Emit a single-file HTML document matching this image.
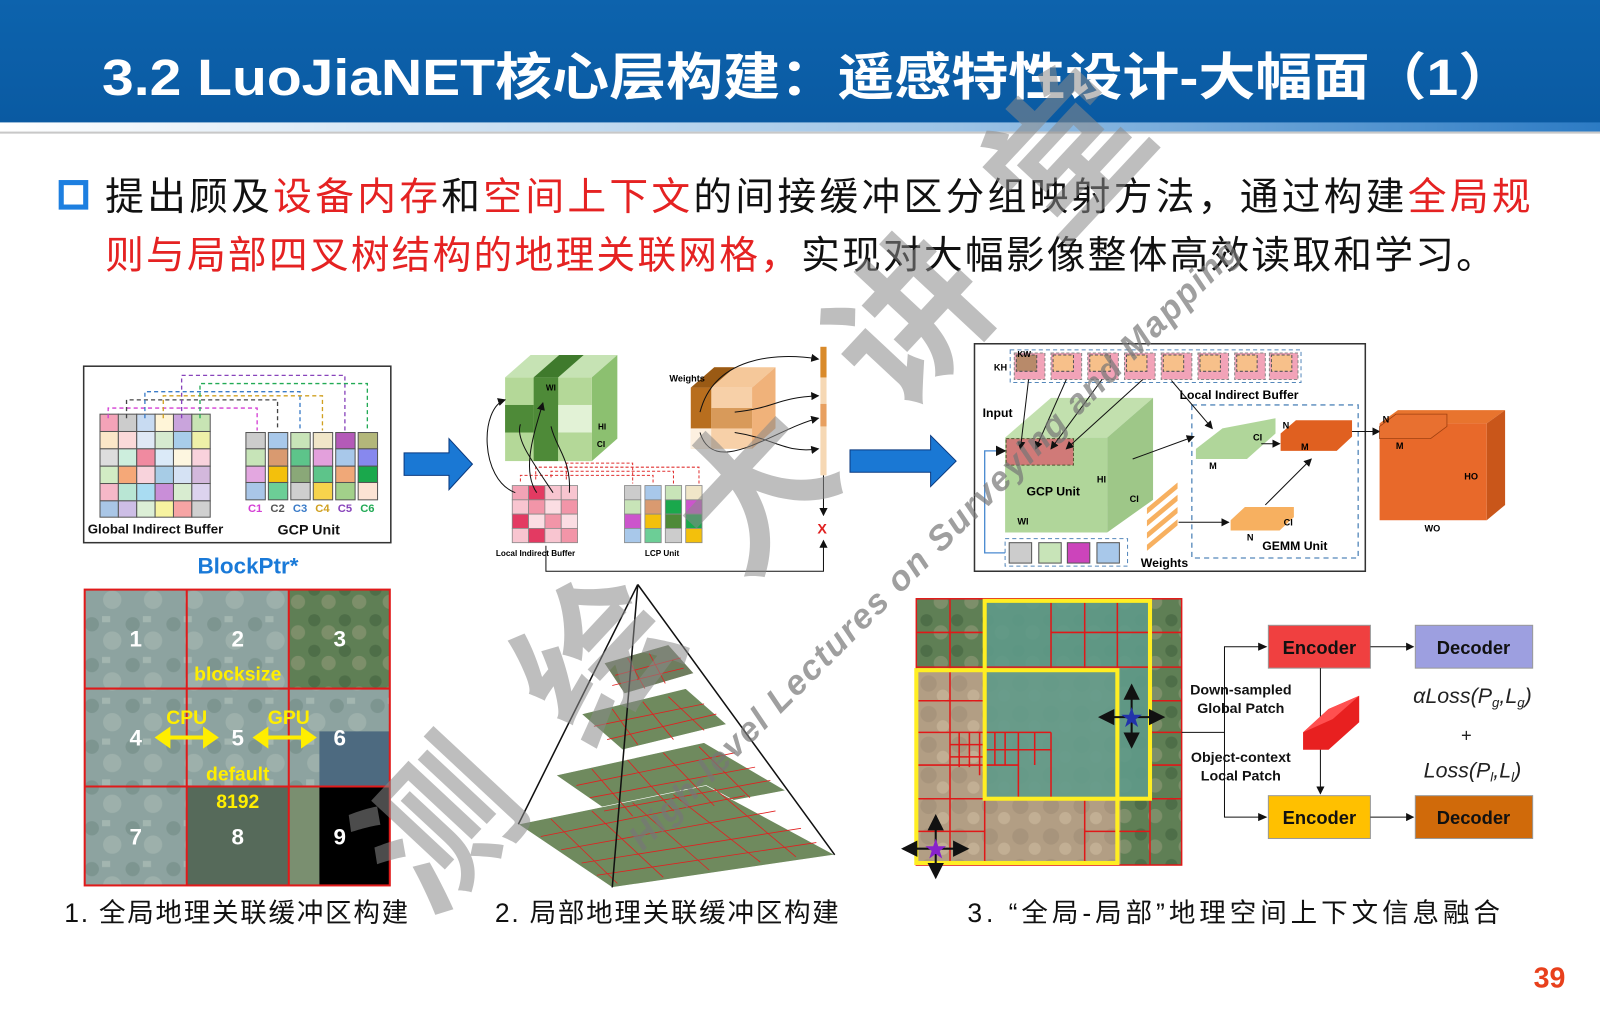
<!DOCTYPE html>
<html><head><meta charset="utf-8"><style>
html,body{margin:0;padding:0;background:#fff;}
svg{display:block}
text{font-family:"Liberation Sans","Noto Sans CJK SC",sans-serif}
</style></head><body>
<svg width="1600" height="1016" viewBox="0 0 1568 996" preserveAspectRatio="none" xmlns="http://www.w3.org/2000/svg">
<defs>
<linearGradient id="tb" x1="0" y1="0" x2="0" y2="1"><stop offset="0" stop-color="#0d63ad"/><stop offset="1" stop-color="#0a5aa2"/></linearGradient>
<linearGradient id="tb2" x1="0" y1="0" x2="1" y2="0"><stop offset="0" stop-color="#ffffff"/><stop offset="0.6" stop-color="#9cc3e6"/><stop offset="1" stop-color="#2c7bc4"/></linearGradient>
<marker id="ah" markerWidth="8" markerHeight="8" refX="7" refY="4" orient="auto"><path d="M0,0 L8,4 L0,8 z" fill="#111"/></marker>
<pattern id="sat" width="40" height="40" patternUnits="userSpaceOnUse"><rect width="40" height="40" fill="#8da3a0"/><circle cx="10" cy="12" r="7" fill="#7d9590"/><circle cx="30" cy="28" r="9" fill="#9db0ab"/><rect x="20" y="4" width="8" height="6" fill="#a3b6b0"/></pattern>
<pattern id="sat2" width="30" height="30" patternUnits="userSpaceOnUse"><rect width="30" height="30" fill="#5f7f55"/><circle cx="8" cy="8" r="6" fill="#4e6e48"/><circle cx="22" cy="20" r="7" fill="#7d8f6a"/></pattern>
<pattern id="sat3" width="30" height="30" patternUnits="userSpaceOnUse"><rect width="30" height="30" fill="#b29e84"/><circle cx="10" cy="10" r="8" fill="#a7947c"/><circle cx="24" cy="22" r="6" fill="#c2af94"/></pattern>
</defs>

<rect x="0" y="0" width="1568" height="122" fill="url(#tb)"/>
<rect x="0" y="120" width="1568" height="9" fill="url(#tb2)"/>
<rect x="0" y="129" width="1568" height="2" fill="#c8c8c8"/>
<text x="100" y="93" textLength="1385" lengthAdjust="spacingAndGlyphs" font-size="50" font-weight="bold" fill="#fff">3.2 LuoJiaNET核心层构建：遥感特性设计-大幅面（1）</text>

<rect x="60" y="179" width="24" height="24" fill="none" stroke="#1d7fe0" stroke-width="5"/>
<text x="103" y="206" font-size="38" fill="#111" textLength="1397" lengthAdjust="spacing">提出顾及<tspan fill="#e52222">设备内存</tspan>和<tspan fill="#e52222">空间上下文</tspan>的间接缓冲区分组映射方法，通过构建<tspan fill="#e52222">全局规</tspan></text>
<text x="103" y="263" font-size="38" fill="#e52222" textLength="1362" lengthAdjust="spacing">则与局部四叉树结构的地理关联网格，<tspan fill="#111">实现对大幅影像整体高效读取和学习。</tspan></text>

<!-- panel 1 -->
<rect x="82" y="359" width="301" height="173" fill="#fff" stroke="#333" stroke-width="1.5"/>
<g stroke="#555" stroke-width="1">
<rect x="98" y="406" width="18" height="17" fill="#f4a3b8"/><rect x="116" y="406" width="18" height="17" fill="#ccc"/><rect x="134" y="406" width="18" height="17" fill="#c8dbf2"/><rect x="152" y="406" width="18" height="17" fill="#fff5d8"/><rect x="170" y="406" width="18" height="17" fill="#c9a4dc"/><rect x="188" y="406" width="18" height="17" fill="#c8e4b4"/>
<rect x="98" y="423" width="18" height="17" fill="#fbe7c8"/><rect x="116" y="423" width="18" height="17" fill="#fbd9d9"/><rect x="134" y="423" width="18" height="17" fill="#dfe8f5"/><rect x="152" y="423" width="18" height="17" fill="#d6ead0"/><rect x="170" y="423" width="18" height="17" fill="#a8cdea"/><rect x="188" y="423" width="18" height="17" fill="#eef0a8"/>
<rect x="98" y="440" width="18" height="17" fill="#ddd"/><rect x="116" y="440" width="18" height="17" fill="#cdeedd"/><rect x="134" y="440" width="18" height="17" fill="#f08aa0"/><rect x="152" y="440" width="18" height="17" fill="#dbeaf8"/><rect x="170" y="440" width="18" height="17" fill="#fdf6e0"/><rect x="188" y="440" width="18" height="17" fill="#f9d2dc"/>
<rect x="98" y="457" width="18" height="17" fill="#d2ecc4"/><rect x="116" y="457" width="18" height="17" fill="#f5a878"/><rect x="134" y="457" width="18" height="17" fill="#f8d3dc"/><rect x="152" y="457" width="18" height="17" fill="#a7cce6"/><rect x="170" y="457" width="18" height="17" fill="#d5e2f4"/><rect x="188" y="457" width="18" height="17" fill="#d3b8dc"/>
<rect x="98" y="474" width="18" height="17" fill="#f6b8c8"/><rect x="116" y="474" width="18" height="17" fill="#b9e6d4"/><rect x="134" y="474" width="18" height="17" fill="#a9dcf2"/><rect x="152" y="474" width="18" height="17" fill="#c98ed8"/><rect x="170" y="474" width="18" height="17" fill="#d8ecd0"/><rect x="188" y="474" width="18" height="17" fill="#dcd3ee"/>
<rect x="98" y="491" width="18" height="16" fill="#a9c6e6"/><rect x="116" y="491" width="18" height="16" fill="#cdbee6"/><rect x="134" y="491" width="18" height="16" fill="#dcefd6"/><rect x="152" y="491" width="18" height="16" fill="#f7f3a0"/><rect x="170" y="491" width="18" height="16" fill="#f6a4a4"/><rect x="188" y="491" width="18" height="16" fill="#d0d0d0"/>
</g>
<g stroke="#555" stroke-width="1">
<rect x="241" y="424" width="19" height="16" fill="#ccc"/><rect x="241" y="440" width="19" height="17" fill="#c7e4b8"/><rect x="241" y="457" width="19" height="16" fill="#e3a7e0"/><rect x="241" y="473" width="19" height="17" fill="#a9c6e8"/>
<rect x="263" y="424" width="19" height="16" fill="#a8c8ea"/><rect x="263" y="440" width="19" height="17" fill="#d99a70"/><rect x="263" y="457" width="19" height="16" fill="#f3c00c"/><rect x="263" y="473" width="19" height="17" fill="#6cce96"/>
<rect x="285" y="424" width="19" height="16" fill="#c8e4b8"/><rect x="285" y="440" width="19" height="17" fill="#5dc48a"/><rect x="285" y="457" width="19" height="16" fill="#8aa878"/><rect x="285" y="473" width="19" height="17" fill="#cfcfcf"/>
<rect x="307" y="424" width="19" height="16" fill="#f0e6c8"/><rect x="307" y="440" width="19" height="17" fill="#e3a0dc"/><rect x="307" y="457" width="19" height="16" fill="#5dc48a"/><rect x="307" y="473" width="19" height="17" fill="#f7d34c"/>
<rect x="329" y="424" width="19" height="16" fill="#b45ab8"/><rect x="329" y="440" width="19" height="17" fill="#a8c8ea"/><rect x="329" y="457" width="19" height="16" fill="#f0a878"/><rect x="329" y="473" width="19" height="17" fill="#a2d08a"/>
<rect x="351" y="424" width="19" height="16" fill="#b3b77a"/><rect x="351" y="440" width="19" height="17" fill="#8788ee"/><rect x="351" y="457" width="19" height="16" fill="#1aa84c"/><rect x="351" y="473" width="19" height="17" fill="#fbe3d4"/>
</g>
<g fill="none" stroke-width="1.3" stroke-dasharray="4,3">
<path d="M106,410 V400 H252 V422" stroke="#d43fd4"/>
<path d="M124,410 V392 H272 V422" stroke="#444"/>
<path d="M142,410 V384 H294 V422" stroke="#3a7bc8"/>
<path d="M160,410 V388 H316 V422" stroke="#d0a020"/>
<path d="M178,410 V368 H338 V422" stroke="#8844bb"/>
<path d="M196,410 V376 H360 V422" stroke="#22aa55"/>
</g>
<g font-size="11" font-weight="bold"><text x="243" y="502" fill="#d43fd4">C1</text><text x="265" y="502" fill="#555">C2</text><text x="287" y="502" fill="#3a7bc8">C3</text><text x="309" y="502" fill="#d0a020">C4</text><text x="331" y="502" fill="#8844bb">C5</text><text x="353" y="502" fill="#22aa55">C6</text></g>
<text x="86" y="523" font-size="13" font-weight="bold" fill="#111">Global Indirect Buffer</text>
<text x="272" y="524" font-size="14" font-weight="bold" fill="#111">GCP Unit</text>
<text x="243" y="562" text-anchor="middle" font-size="22" font-weight="bold" fill="#1a7ad8">BlockPtr*</text>

<rect x="83" y="578" width="299" height="290" fill="url(#sat)"/>
<rect x="283" y="578" width="99" height="96" fill="url(#sat2)"/>
<rect x="183" y="771" width="100" height="97" fill="#566a5a"/>
<rect x="283" y="771" width="30" height="97" fill="#7a8f70"/>
<rect x="313" y="717" width="69" height="54" fill="#4d6a80"/>
<rect x="313" y="771" width="69" height="97" fill="#000"/>
<g stroke="#e01a1a" stroke-width="2" fill="none"><rect x="83" y="578" width="299" height="290"/><path d="M183,578V868M283,578V868M83,675H382M83,771H382"/></g>
<g font-size="22" font-weight="bold" fill="#fff" text-anchor="middle"><text x="133" y="634">1</text><text x="233" y="634">2</text><text x="333" y="634">3</text><text x="133" y="731">4</text><text x="233" y="731">5</text><text x="333" y="731">6</text><text x="133" y="828">7</text><text x="233" y="828">8</text><text x="333" y="828">9</text></g>
<g font-size="19" font-weight="bold" fill="#ffee00" text-anchor="middle"><text x="233" y="667">blocksize</text><text x="183" y="710">CPU</text><text x="283" y="710">GPU</text><text x="233" y="765">default</text><text x="233" y="792">8192</text></g>
<g stroke="#ffee00" stroke-width="4" fill="#ffee00"><path d="M162,723H204"/><path d="M258,723H300"/><path d="M155,723l10,-7v14z M211,723l-10,-7v14z M251,723l10,-7v14z M307,723l-10,-7v14z"/></g>

<path d="M396,444H440V430L463,455L440,480V466H396z" fill="#1a78d4" stroke="#0a3a80" stroke-width="1"/>
<path d="M833,441H912V427L937,452L912,477V463H833z" fill="#1a78d4" stroke="#0a3a80" stroke-width="1"/>

<!-- panel 2 -->
<path d="M495,370 L520,348 L605,348 L580,370z" fill="#c6e3b4"/>
<path d="M580,370 L605,348 L605,430 L580,452z" fill="#8cc070"/>
<rect x="495" y="370" width="85" height="82" fill="#b4d898"/>
<rect x="523" y="370" width="24" height="82" fill="#4e8a38"/>
<rect x="495" y="397" width="28" height="27" fill="#4e8a38"/>
<rect x="547" y="397" width="33" height="27" fill="#e2f2d6"/>
<rect x="547" y="424" width="33" height="28" fill="#b4d898"/>
<path d="M523,370 L548,348 L572,348 L547,370z" fill="#3f7a2c"/>
<text x="535" y="383" font-size="8" font-weight="bold">WI</text><text x="586" y="421" font-size="8" font-weight="bold">HI</text><text x="585" y="438" font-size="8" font-weight="bold">CI</text>
<g stroke="#888" stroke-width="0.8">
<rect x="502" y="476" width="16" height="14" fill="#f2a3b5"/><rect x="518" y="476" width="16" height="14" fill="#e33a62"/><rect x="534" y="476" width="16" height="14" fill="#f8c5d0"/><rect x="550" y="476" width="16" height="14" fill="#f8c5d0"/>
<rect x="502" y="490" width="16" height="14" fill="#f8c5d0"/><rect x="518" y="490" width="16" height="14" fill="#f295a8"/><rect x="534" y="490" width="16" height="14" fill="#fbdde3"/><rect x="550" y="490" width="16" height="14" fill="#f295a8"/>
<rect x="502" y="504" width="16" height="14" fill="#e33a62"/><rect x="518" y="504" width="16" height="14" fill="#fbdde3"/><rect x="534" y="504" width="16" height="14" fill="#f295a8"/><rect x="550" y="504" width="16" height="14" fill="#fbdde3"/>
<rect x="502" y="518" width="16" height="14" fill="#f8c5d0"/><rect x="518" y="518" width="16" height="14" fill="#e33a62"/><rect x="534" y="518" width="16" height="14" fill="#f8c5d0"/><rect x="550" y="518" width="16" height="14" fill="#f295a8"/>
<rect x="612" y="476" width="16" height="14" fill="#ccc"/><rect x="612" y="490" width="16" height="14" fill="#c8e4b8"/><rect x="612" y="504" width="16" height="14" fill="#cc55cc"/><rect x="612" y="518" width="16" height="14" fill="#a8c8ea"/>
<rect x="632" y="476" width="16" height="14" fill="#a8c8ea"/><rect x="632" y="490" width="16" height="14" fill="#d99a70"/><rect x="632" y="504" width="16" height="14" fill="#f3c00c"/><rect x="632" y="518" width="16" height="14" fill="#6cce96"/>
<rect x="652" y="476" width="16" height="14" fill="#c8e4b8"/><rect x="652" y="490" width="16" height="14" fill="#1aa84c"/><rect x="652" y="504" width="16" height="14" fill="#4e8a38"/><rect x="652" y="518" width="16" height="14" fill="#ccc"/>
<rect x="672" y="476" width="16" height="14" fill="#f0e6c8"/><rect x="672" y="490" width="16" height="14" fill="#cc55cc"/><rect x="672" y="504" width="16" height="14" fill="#1aa84c"/><rect x="672" y="518" width="16" height="14" fill="#f3c00c"/>
</g>
<g fill="none" stroke="#e03030" stroke-width="1" stroke-dasharray="3,2"><path d="M525,470V458H685V474"/><path d="M540,468V462H660V474"/><path d="M510,472V466H640V474"/><path d="M555,470V454H620V474"/></g>
<g fill="none" stroke="#111" stroke-width="1"><path d="M505,483 C470,470 470,400 495,392" marker-end="url(#ah)"/><path d="M526,483 C510,460 525,420 532,395" marker-end="url(#ah)"/><path d="M542,483 C520,450 505,430 510,416"/><path d="M558,483 C560,450 545,440 540,418"/></g>
<text x="486" y="545" font-size="8" font-weight="bold">Local Indirect Buffer</text><text x="632" y="545" font-size="8" font-weight="bold">LCP Unit</text>
<path d="M677,380 L700,360 L760,360 L737,380z" fill="#f5c89a"/>
<path d="M737,380 L760,360 L760,420 L737,440z" fill="#f0b27a"/>
<rect x="677" y="380" width="60" height="60" fill="#f7d0a8"/>
<rect x="677" y="380" width="20" height="40" fill="#b86e1e"/>
<rect x="697" y="400" width="40" height="20" fill="#d89a5a"/>
<rect x="677" y="420" width="20" height="20" fill="#fdf0e0"/>
<path d="M677,380 L700,360 L720,360 L697,380z" fill="#9a5a14"/>
<text x="656" y="374" font-size="9" font-weight="bold">Weights</text>
<rect x="804" y="340" width="6" height="126" fill="#f6d8b4"/><rect x="804" y="340" width="6" height="30" fill="#d98a2a"/><rect x="804" y="396" width="6" height="22" fill="#e8a060"/>
<g fill="none" stroke="#111" stroke-width="1"><path d="M686,404 C700,350 760,345 802,352" marker-end="url(#ah)"/><path d="M720,404 C760,400 760,390 802,388" marker-end="url(#ah)"/><path d="M686,424 C700,470 760,420 802,410" marker-end="url(#ah)"/><path d="M720,424 C760,430 770,445 802,440" marker-end="url(#ah)"/><path d="M807,466 V505" marker-end="url(#ah)"/><path d="M535,535 V560 H807 V530" marker-end="url(#ah)"/></g>
<text x="801" y="523" font-size="14" font-weight="bold" fill="#e02020">X</text>

<!-- panel 3 -->
<rect x="955" y="337" width="383" height="223" fill="#fff" stroke="#333" stroke-width="1.5"/>
<rect x="990" y="343" width="285" height="32" fill="none" stroke="#5588bb" stroke-dasharray="4,3"/>
<g fill="#f2a3b8" stroke="#888" stroke-dasharray="3,2"><rect x="994" y="346" width="30" height="26"/><rect x="1030" y="346" width="30" height="26"/><rect x="1066" y="346" width="30" height="26"/><rect x="1102" y="346" width="30" height="26"/><rect x="1138" y="346" width="30" height="26"/><rect x="1174" y="346" width="30" height="26"/><rect x="1210" y="346" width="30" height="26"/><rect x="1244" y="346" width="28" height="26"/></g>
<g fill="#f7c08a" stroke="#555" stroke-dasharray="3,2"><rect x="996" y="348" width="20" height="16" fill="#b88a6a"/><rect x="1032" y="348" width="20" height="16"/><rect x="1068" y="348" width="20" height="16"/><rect x="1104" y="348" width="20" height="16"/><rect x="1140" y="348" width="20" height="16"/><rect x="1176" y="348" width="20" height="16"/><rect x="1212" y="348" width="20" height="16"/><rect x="1246" y="348" width="20" height="16"/></g>
<text x="974" y="363" font-size="9" font-weight="bold">KH</text><text x="997" y="350" font-size="8" font-weight="bold">KW</text>
<text x="1156" y="391" font-size="12" font-weight="bold">Local Indirect Buffer</text>
<text x="963" y="409" font-size="12" font-weight="bold">Input</text>
<path d="M985,429 L1030,390 L1130,390 L1085,429z" fill="#c2e0ae"/>
<path d="M1085,429 L1130,390 L1130,490 L1085,522z" fill="#9ec788"/>
<rect x="985" y="429" width="100" height="93" fill="#b0d69a"/>
<rect x="986" y="430" width="66" height="26" fill="#d07a78" stroke="#553" stroke-dasharray="3,2"/>
<text x="1006" y="486" font-size="12" font-weight="bold">GCP Unit</text><text x="1075" y="473" font-size="9" font-weight="bold">HI</text><text x="1107" y="492" font-size="9" font-weight="bold">CI</text><text x="997" y="514" font-size="9" font-weight="bold">WI</text>
<rect x="985" y="528" width="120" height="27" fill="none" stroke="#5588bb" stroke-dasharray="4,3"/>
<g stroke="#555"><rect x="989" y="532" width="22" height="20" fill="#ccc"/><rect x="1018" y="532" width="22" height="20" fill="#c8e4b8"/><rect x="1046" y="532" width="22" height="20" fill="#cc44bb"/><rect x="1075" y="532" width="22" height="20" fill="#a8c8ea"/></g>
<path d="M985,542 H965 V442 H985" fill="none" stroke="#4a8ad0" stroke-width="1.3" marker-end="url(#ah)"/>
<g fill="#f7b060"><path d="M1124,498l30,-25v6l-30,25z"/><path d="M1124,510l30,-25v6l-30,25z"/><path d="M1124,522l30,-25v6l-30,25z"/><path d="M1124,534l30,-25v6l-30,25z"/></g>
<text x="1118" y="556" font-size="12" font-weight="bold">Weights</text>
<rect x="1168" y="397" width="163" height="150" fill="none" stroke="#5588bb" stroke-dasharray="5,4" stroke-width="1.3"/>
<path d="M1172,440 L1198,420 L1250,410 L1250,425 L1222,450 L1172,450z" fill="#b0d69a"/>
<text x="1185" y="460" font-size="9" font-weight="bold">M</text><text x="1228" y="432" font-size="9" font-weight="bold">CI</text>
<path d="M1255,425 L1270,412 L1325,412 L1325,428 L1310,442 L1255,442z" fill="#e06020"/>
<text x="1275" y="441" font-size="9" font-weight="bold">M</text><text x="1257" y="420" font-size="9" font-weight="bold">N</text>
<path d="M1206,510 L1220,497 L1268,497 L1268,507 L1254,520 L1206,520z" fill="#f7b060"/>
<text x="1222" y="530" font-size="9" font-weight="bold">N</text><text x="1258" y="515" font-size="9" font-weight="bold">CI</text>
<text x="1237" y="539" font-size="12" font-weight="bold">GEMM Unit</text>
<g fill="none" stroke="#111" stroke-width="1" marker-end="url(#ah)"><path d="M1008,372 L1000,440"/><path d="M1045,372 L1015,440"/><path d="M1080,372 L1030,440"/><path d="M1120,372 L1045,440"/><path d="M1148,373 L1188,420"/><path d="M1110,450 L1170,428"/><path d="M1236,435 L1254,435"/><path d="M1155,512 L1204,512"/><path d="M1240,495 L1285,450"/><path d="M1325,423 L1352,423"/></g>
<path d="M1352,415 L1370,402 L1475,402 L1457,415z" fill="#e8742e"/>
<path d="M1457,415 L1475,402 L1475,495 L1457,510z" fill="#c9561a"/>
<rect x="1352" y="415" width="105" height="95" fill="#e8692a"/>
<path d="M1352,418 L1368,406 L1418,406 L1418,418 L1402,430 L1352,430z" fill="#e87030" stroke="#a04010" stroke-width="0.8"/>
<text x="1355" y="414" font-size="9" font-weight="bold">N</text><text x="1368" y="440" font-size="9" font-weight="bold">M</text><text x="1435" y="470" font-size="9" font-weight="bold">HO</text><text x="1396" y="521" font-size="9" font-weight="bold">WO</text>

<!-- pyramid -->
<g stroke="#fff" stroke-width="0.6">
<polygon points="592,650 655,632 680,660 612,680" fill="#6f7d5e"/>
<polygon points="570,700 672,675 712,710 610,735" fill="#6f8a5e"/>
<polygon points="545,760 690,728 770,775 610,805" fill="#6f8a5e"/>
<polygon points="508,808 692,770 818,838 600,870" fill="#6f8a5e"/>
</g>
<g stroke="#e02020" stroke-width="0.8" fill="none">
<path d="M603,662 L667,645 M600,672 L670,655 M615,645 L632,675 M636,640 L652,670"/>
<path d="M582,712 L690,690 M595,725 L702,700 M600,695 L625,730 M630,688 L660,725 M655,683 L690,716"/>
<path d="M565,770 L720,738 M578,782 L740,752 M592,795 L755,765 M580,754 L620,800 M615,745 L660,795 M650,738 L700,790 M685,732 L735,782"/>
<path d="M530,820 L730,780 M550,833 L760,795 M570,846 L785,812 M585,858 L800,826 M540,803 L605,866 M580,795 L650,860 M620,787 L695,853 M660,779 L745,845 M700,773 L780,840"/>
</g>
<g stroke="#111" stroke-width="1.5" fill="none"><path d="M625,573 L508,808 M625,573 L600,870 M625,573 L818,838"/></g>

<!-- quadtree map -->
<rect x="898" y="587" width="260" height="261" fill="url(#sat2)"/>
<rect x="898" y="655" width="200" height="193" fill="url(#sat3)"/>
<rect x="965" y="587" width="162" height="196" fill="#5f9a8a" opacity="0.9"/>
<g stroke="#e01818" stroke-width="1.5" fill="none">
<rect x="898" y="587" width="260" height="261"/>
<path d="M931,587V655M1030,587V655M1063,587V655M1095,587V655M1127,587V848M898,620H965M1030,620H1158M898,654H1158M1127,687H1158M1127,718H1158M1127,750H1158"/>
<path d="M931,655V848M898,687H965M898,718H1030M898,750H998M898,783H1158M965,783V848M1063,783V848M1063,815H1127M898,815H965M1030,718V783M998,718V783"/>
<path d="M940,718V752M950,718V752M960,718V760M931,730H965M931,742H965M975,718V750M985,718V750M965,735H998M998,735H1030M1014,718V750"/>
</g>
<rect x="965" y="589" width="162" height="194" fill="none" stroke="#ffee22" stroke-width="4"/>
<rect x="898" y="657" width="197" height="189" fill="none" stroke="#ffee22" stroke-width="4"/>
<g stroke="#111" stroke-width="2" fill="none" marker-end="url(#ah)"><path d="M1109,703V672"/><path d="M1109,703V732"/><path d="M1109,703H1078"/><path d="M1109,703H1140"/><path d="M917,832V800"/><path d="M917,832V860"/><path d="M917,832H885"/><path d="M917,832H948"/></g>
<text x="1109" y="711" text-anchor="middle" font-size="22" fill="#2233aa">★</text>
<text x="917" y="840" text-anchor="middle" font-size="22" fill="#8822cc">★</text>
<path d="M1158,718 H1200 V634 H1241 M1200,718 V801 H1241" fill="none" stroke="#111" stroke-width="1"/>
<path d="M1233,630l9,4l-9,4z M1233,797l9,4l-9,4z" fill="#111"/>
<rect x="1243" y="613" width="100" height="42" fill="#f04040" stroke="#999"/>
<rect x="1387" y="613" width="115" height="42" fill="#9d9fe0" stroke="#999"/>
<rect x="1243" y="780" width="100" height="42" fill="#ffc000" stroke="#999"/>
<rect x="1387" y="780" width="115" height="42" fill="#d06a0a" stroke="#999"/>
<g font-size="18" font-weight="bold" fill="#111" text-anchor="middle"><text x="1293" y="641">Encoder</text><text x="1444" y="641">Decoder</text><text x="1293" y="808">Encoder</text><text x="1444" y="808">Decoder</text></g>
<g stroke="#111" stroke-width="1" fill="none" marker-end="url(#ah)"><path d="M1343,634H1385"/><path d="M1343,801H1385"/><path d="M1294,655V778"/></g>
<path d="M1277,718 L1302,695 L1332,682 L1332,708 L1302,735 L1277,735z" fill="#e82020"/>
<path d="M1277,718 L1302,695 L1332,682 L1306,705z" fill="#ff5050"/>
<g font-family="Liberation Serif,serif" font-weight="bold" font-size="14" text-anchor="middle" fill="#111"><text x="1216" y="681">Down-sampled</text><text x="1216" y="699">Global Patch</text><text x="1216" y="747">Object-context</text><text x="1216" y="765">Local Patch</text></g>
<g font-family="Liberation Serif,serif" font-style="italic" font-size="21" fill="#222" text-anchor="middle"><text x="1443" y="689">αLoss(P<tspan font-size="13" dy="4">g</tspan><tspan dy="-4">,L</tspan><tspan font-size="13" dy="4">g</tspan><tspan dy="-4">)</tspan></text><text x="1437" y="727" font-style="normal" font-size="18">+</text><text x="1443" y="762">Loss(P<tspan font-size="13" dy="4">l</tspan><tspan dy="-4">,L</tspan><tspan font-size="13" dy="4">l</tspan><tspan dy="-4">)</tspan></text></g>

<!-- captions -->
<g font-size="26" fill="#111"><text x="63" y="904" textLength="337" lengthAdjust="spacing">1. 全局地理关联缓冲区构建</text><text x="485" y="904" textLength="337" lengthAdjust="spacing">2. 局部地理关联缓冲区构建</text><text x="948" y="904" textLength="522" lengthAdjust="spacing">3. “全局-局部”地理空间上下文信息融合</text></g>
<text x="1503" y="968" font-family="Liberation Serif,serif" font-weight="bold" font-size="28" fill="#e8401c">39</text>

<!-- watermark on top -->
<text x="0" y="0" font-size="150" font-weight="bold" fill="#8a8a8a" opacity="0.55" textLength="1050" lengthAdjust="spacing" transform="translate(420,900) rotate(-47)" font-family="Noto Serif CJK SC,serif">测绘大讲堂</text>
<text x="0" y="0" font-size="34" fill="#777" font-family="Liberation Serif,serif" font-weight="bold" font-style="italic" opacity="0.7" textLength="830" lengthAdjust="spacing" transform="translate(630,835) rotate(-45)">High-level Lectures on Surveying and Mapping</text>
</svg>
</body></html>
